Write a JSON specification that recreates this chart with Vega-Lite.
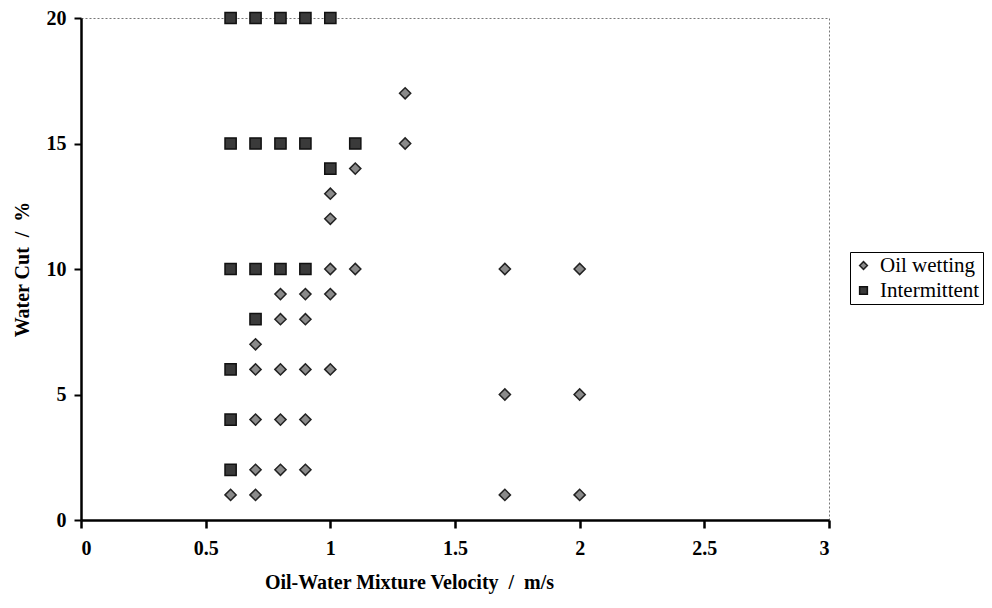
{
  "$schema": "https://vega.github.io/schema/vega-lite/v6.json",
  "autosize": "none",
  "width": 748,
  "height": 502,
  "padding": {"left": 81, "top": 18, "right": 163, "bottom": 88},
  "background": "white",
  "config": {
    "view": {"stroke": "#777777", "strokeDash": [2, 2], "strokeWidth": 1},
    "font": "Liberation Serif"
  },
  "data": {
    "values": [
      {"v": 0.6, "wc": 20, "regime": "Intermittent"},
      {"v": 0.7, "wc": 20, "regime": "Intermittent"},
      {"v": 0.8, "wc": 20, "regime": "Intermittent"},
      {"v": 0.9, "wc": 20, "regime": "Intermittent"},
      {"v": 1.0, "wc": 20, "regime": "Intermittent"},
      {"v": 0.6, "wc": 15, "regime": "Intermittent"},
      {"v": 0.7, "wc": 15, "regime": "Intermittent"},
      {"v": 0.8, "wc": 15, "regime": "Intermittent"},
      {"v": 0.9, "wc": 15, "regime": "Intermittent"},
      {"v": 1.1, "wc": 15, "regime": "Intermittent"},
      {"v": 1.0, "wc": 14, "regime": "Intermittent"},
      {"v": 0.6, "wc": 10, "regime": "Intermittent"},
      {"v": 0.7, "wc": 10, "regime": "Intermittent"},
      {"v": 0.8, "wc": 10, "regime": "Intermittent"},
      {"v": 0.9, "wc": 10, "regime": "Intermittent"},
      {"v": 0.7, "wc": 8, "regime": "Intermittent"},
      {"v": 0.6, "wc": 6, "regime": "Intermittent"},
      {"v": 0.6, "wc": 4, "regime": "Intermittent"},
      {"v": 0.6, "wc": 2, "regime": "Intermittent"},
      {"v": 1.3, "wc": 17, "regime": "Oil wetting"},
      {"v": 1.3, "wc": 15, "regime": "Oil wetting"},
      {"v": 1.1, "wc": 14, "regime": "Oil wetting"},
      {"v": 1.0, "wc": 13, "regime": "Oil wetting"},
      {"v": 1.0, "wc": 12, "regime": "Oil wetting"},
      {"v": 1.0, "wc": 10, "regime": "Oil wetting"},
      {"v": 1.1, "wc": 10, "regime": "Oil wetting"},
      {"v": 1.7, "wc": 10, "regime": "Oil wetting"},
      {"v": 2.0, "wc": 10, "regime": "Oil wetting"},
      {"v": 0.8, "wc": 9, "regime": "Oil wetting"},
      {"v": 0.9, "wc": 9, "regime": "Oil wetting"},
      {"v": 1.0, "wc": 9, "regime": "Oil wetting"},
      {"v": 0.8, "wc": 8, "regime": "Oil wetting"},
      {"v": 0.9, "wc": 8, "regime": "Oil wetting"},
      {"v": 0.7, "wc": 7, "regime": "Oil wetting"},
      {"v": 0.7, "wc": 6, "regime": "Oil wetting"},
      {"v": 0.8, "wc": 6, "regime": "Oil wetting"},
      {"v": 0.9, "wc": 6, "regime": "Oil wetting"},
      {"v": 1.0, "wc": 6, "regime": "Oil wetting"},
      {"v": 1.7, "wc": 5, "regime": "Oil wetting"},
      {"v": 2.0, "wc": 5, "regime": "Oil wetting"},
      {"v": 0.7, "wc": 4, "regime": "Oil wetting"},
      {"v": 0.8, "wc": 4, "regime": "Oil wetting"},
      {"v": 0.9, "wc": 4, "regime": "Oil wetting"},
      {"v": 0.7, "wc": 2, "regime": "Oil wetting"},
      {"v": 0.8, "wc": 2, "regime": "Oil wetting"},
      {"v": 0.9, "wc": 2, "regime": "Oil wetting"},
      {"v": 0.6, "wc": 1, "regime": "Oil wetting"},
      {"v": 0.7, "wc": 1, "regime": "Oil wetting"},
      {"v": 1.7, "wc": 1, "regime": "Oil wetting"},
      {"v": 2.0, "wc": 1, "regime": "Oil wetting"}
    ]
  },
  "mark": {"type": "point", "filled": true, "strokeWidth": 1.5, "opacity": 1, "clip": false, "size": 125},
  "encoding": {
    "x": {
      "field": "v", "type": "quantitative",
      "scale": {"domain": [0, 3], "nice": false, "zero": true},
      "axis": {
        "title": "Oil-Water Mixture Velocity \u00a0/\u00a0 m/s",
        "values": [0, 0.5, 1, 1.5, 2, 2.5, 3],
        "format": "~g",
        "grid": false,
        "domainColor": "black", "domainWidth": 2.5,
        "tickColor": "black", "tickWidth": 2.5, "tickSize": 8,
        "labelFont": "Liberation Serif", "labelFontSize": 20, "labelFontWeight": "bold", "labelColor": "black", "labelPadding": 10,
        "titleFont": "Liberation Serif", "titleFontSize": 20, "titleFontWeight": "bold", "titleColor": "black", "titlePadding": 14,
        "titleX": 328, "titleAnchor": "middle"
      }
    },
    "y": {
      "field": "wc", "type": "quantitative",
      "scale": {"domain": [0, 20], "nice": false},
      "axis": {
        "title": "Water Cut \u00a0/\u00a0 %",
        "values": [0, 5, 10, 15, 20],
        "grid": false,
        "domainColor": "black", "domainWidth": 2.5,
        "tickColor": "black", "tickWidth": 2, "tickSize": 7,
        "labelFont": "Liberation Serif", "labelFontSize": 20, "labelFontWeight": "bold", "labelColor": "black", "labelPadding": 8,
        "titleFont": "Liberation Serif", "titleFontSize": 20, "titleFontWeight": "bold", "titleColor": "black", "titlePadding": 14
      }
    },
    "shape": {
      "field": "regime", "type": "nominal",
      "scale": {"domain": ["Oil wetting", "Intermittent"], "range": ["diamond", "square"]},
      "legend": {
        "title": null,
        "orient": "none",
        "legendX": 769,
        "legendY": 234,
        "strokeColor": "black",
        "padding": 3,
        "labelFont": "Liberation Serif", "labelFontSize": 21, "labelColor": "black",
        "symbolSize": 60, "rowPadding": 3, "labelOffset": 6
      }
    },
    "color": {
      "field": "regime", "type": "nominal",
      "scale": {"domain": ["Oil wetting", "Intermittent"], "range": ["#8a8a8a", "#3a3a3a"]}
    },
    "stroke": {
      "field": "regime", "type": "nominal",
      "scale": {"domain": ["Oil wetting", "Intermittent"], "range": ["#222222", "#111111"]}
    }
  }
}
